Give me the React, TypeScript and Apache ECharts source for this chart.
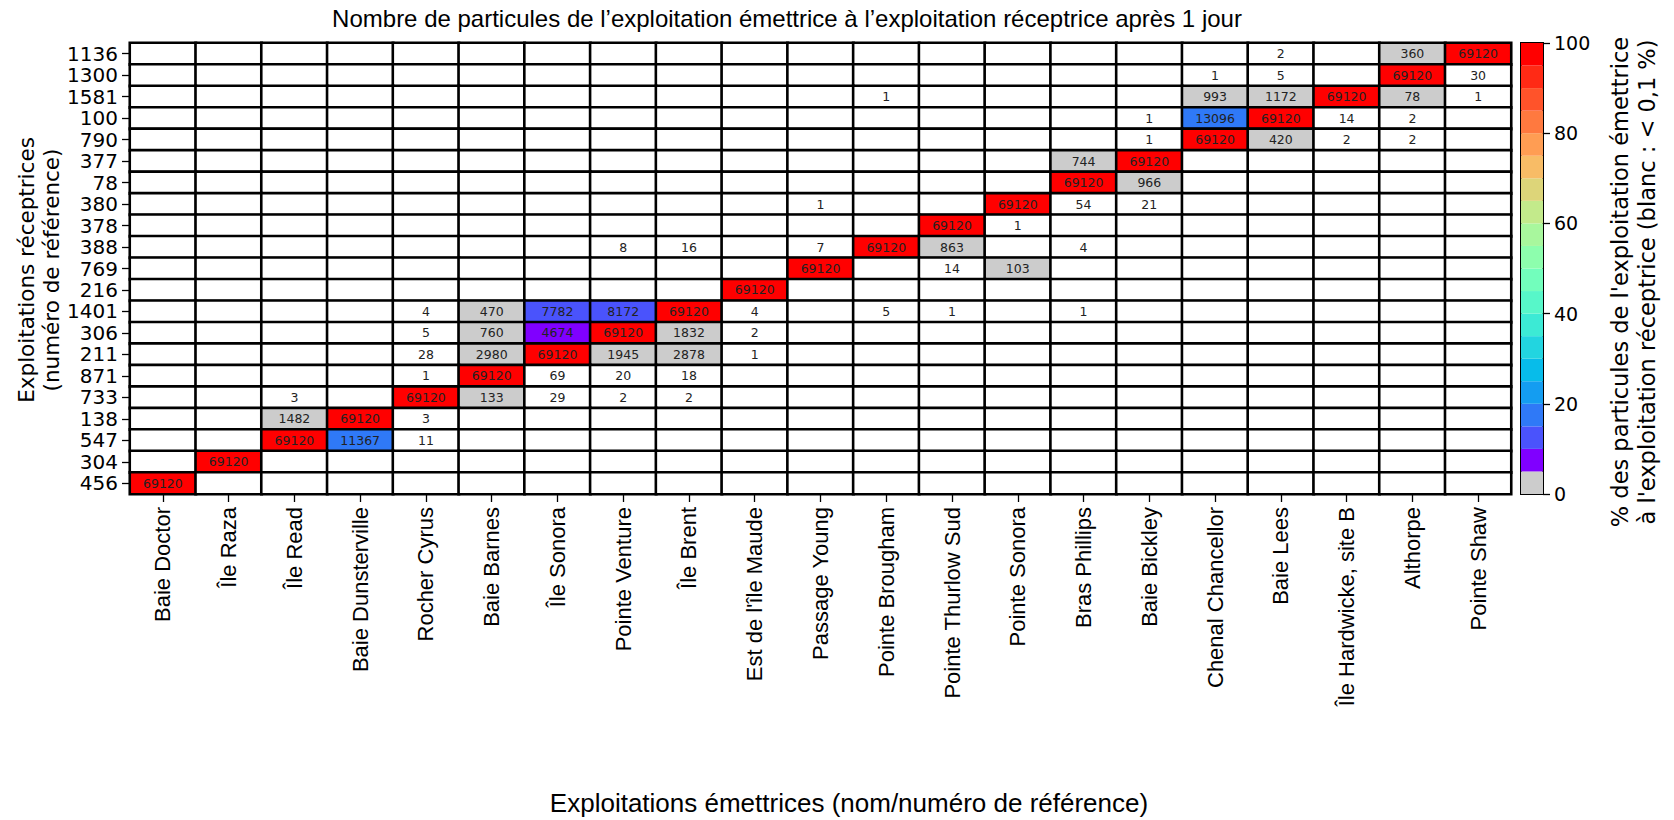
import React, { useEffect, useRef } from "react";
import * as echarts from "echarts";

// Emitting farms (x axis, left to right)
const emitters = [
  "Baie Doctor", "Île Raza", "Île Read", "Baie Dunsterville", "Rocher Cyrus",
  "Baie Barnes", "Île Sonora", "Pointe Venture", "Île Brent", "Est de l'île Maude",
  "Passage Young", "Pointe Brougham", "Pointe Thurlow Sud", "Pointe Sonora",
  "Bras Phillips", "Baie Bickley", "Chenal Chancellor", "Baie Lees",
  "Île Hardwicke, site B", "Althorpe", "Pointe Shaw",
];

// Receiving farms (y axis, top to bottom)
const receivers = [
  "1136", "1300", "1581", "100", "790", "377", "78", "380", "378", "388", "769",
  "216", "1401", "306", "211", "871", "733", "138", "547", "304", "456",
];

// Particle counts per receiving farm (one value per emitting farm)
const r1136 = [0, 0, 0, 0, 0, 0, 0, 0, 0, 0, 0, 0, 0, 0, 0, 0, 0, 2, 0, 360, 69120];
const r1300 = [0, 0, 0, 0, 0, 0, 0, 0, 0, 0, 0, 0, 0, 0, 0, 0, 1, 5, 0, 69120, 30];
const r1581 = [0, 0, 0, 0, 0, 0, 0, 0, 0, 0, 0, 1, 0, 0, 0, 0, 993, 1172, 69120, 78, 1];
const r100 = [0, 0, 0, 0, 0, 0, 0, 0, 0, 0, 0, 0, 0, 0, 0, 1, 13096, 69120, 14, 2, 0];
const r790 = [0, 0, 0, 0, 0, 0, 0, 0, 0, 0, 0, 0, 0, 0, 0, 1, 69120, 420, 2, 2, 0];
const r377 = [0, 0, 0, 0, 0, 0, 0, 0, 0, 0, 0, 0, 0, 0, 744, 69120, 0, 0, 0, 0, 0];
const r78 = [0, 0, 0, 0, 0, 0, 0, 0, 0, 0, 0, 0, 0, 0, 69120, 966, 0, 0, 0, 0, 0];
const r380 = [0, 0, 0, 0, 0, 0, 0, 0, 0, 0, 1, 0, 0, 69120, 54, 21, 0, 0, 0, 0, 0];
const r378 = [0, 0, 0, 0, 0, 0, 0, 0, 0, 0, 0, 0, 69120, 1, 0, 0, 0, 0, 0, 0, 0];
const r388 = [0, 0, 0, 0, 0, 0, 0, 8, 16, 0, 7, 69120, 863, 0, 4, 0, 0, 0, 0, 0, 0];
const r769 = [0, 0, 0, 0, 0, 0, 0, 0, 0, 0, 69120, 0, 14, 103, 0, 0, 0, 0, 0, 0, 0];
const r216 = [0, 0, 0, 0, 0, 0, 0, 0, 0, 69120, 0, 0, 0, 0, 0, 0, 0, 0, 0, 0, 0];
const r1401 = [0, 0, 0, 0, 4, 470, 7782, 8172, 69120, 4, 0, 5, 1, 0, 1, 0, 0, 0, 0, 0, 0];
const r306 = [0, 0, 0, 0, 5, 760, 4674, 69120, 1832, 2, 0, 0, 0, 0, 0, 0, 0, 0, 0, 0, 0];
const r211 = [0, 0, 0, 0, 28, 2980, 69120, 1945, 2878, 1, 0, 0, 0, 0, 0, 0, 0, 0, 0, 0, 0];
const r871 = [0, 0, 0, 0, 1, 69120, 69, 20, 18, 0, 0, 0, 0, 0, 0, 0, 0, 0, 0, 0, 0];
const r733 = [0, 0, 3, 0, 69120, 133, 29, 2, 2, 0, 0, 0, 0, 0, 0, 0, 0, 0, 0, 0, 0];
const r138 = [0, 0, 1482, 69120, 3, 0, 0, 0, 0, 0, 0, 0, 0, 0, 0, 0, 0, 0, 0, 0, 0];
const r547 = [0, 0, 69120, 11367, 11, 0, 0, 0, 0, 0, 0, 0, 0, 0, 0, 0, 0, 0, 0, 0, 0];
const r304 = [0, 69120, 0, 0, 0, 0, 0, 0, 0, 0, 0, 0, 0, 0, 0, 0, 0, 0, 0, 0, 0];
const r456 = [69120, 0, 0, 0, 0, 0, 0, 0, 0, 0, 0, 0, 0, 0, 0, 0, 0, 0, 0, 0, 0];

const rows = [
  r1136, r1300, r1581, r100, r790, r377, r78, r380, r378, r388, r769,
  r216, r1401, r306, r211, r871, r733, r138, r547, r304, r456,
];

// Total particles released per farm (100 %)
const TOTAL = 69120;
// White threshold (percent)
const WHITE_BELOW = 0.1;

// Colour scale: 5 % bins from 0 to 100
const binEdges = [0, 5, 10, 15, 20, 25, 30, 35, 40, 45, 50, 55, 60, 65, 70, 75, 80, 85, 90, 95, 100];
const binColors = [
  "#cccccc", "#8000ff", "#4a53fc", "#2f79f7", "#149df1", "#07bcea", "#22d5e0",
  "#3cead5", "#57f7c9", "#72febc", "#8dfead", "#a8f79d", "#c3ea8b", "#ddd579",
  "#f8bc66", "#ff9d53", "#ff793f", "#ff532a", "#ff2a15", "#ff0000",
];
const colorbarTicks = [0, 20, 40, 60, 80, 100];

const TITLE = "Nombre de particules de l’exploitation émettrice à l’exploitation réceptrice après 1 jour";
const X_NAME = "Exploitations émettrices (nom/numéro de référence)";
const Y_NAME = "Exploitations réceptrices\n(numéro de référence)";
const CB_NAME = "% des particules de l'exploitation émettrice\nà l'exploitation réceptrice (blanc : < 0,1 %)";

export default function App() {
  const ref = useRef<HTMLDivElement>(null);

  useEffect(() => {
    document.body.style.margin = "0";
    if (!ref.current) return;
    const chart = echarts.init(ref.current, undefined, { renderer: "svg" });

    const yCats = receivers.slice().reverse();
    const data: number[][] = [];
    rows.forEach((row, ri) => {
      const yi = receivers.length - 1 - ri;
      row.forEach((v, xi) => data.push([xi, yi, v]));
    });

    const pieces: any[] = [{ lt: (TOTAL * WHITE_BELOW) / 100, color: "#ffffff" }];
    for (let i = 0; i < binColors.length; i++) {
      const lo = i === 0 ? (TOTAL * WHITE_BELOW) / 100 : (TOTAL * binEdges[i]) / 100;
      const hi = (TOTAL * binEdges[i + 1]) / 100;
      if (i === binColors.length - 1) pieces.push({ gte: lo, lte: hi, color: binColors[i] });
      else pieces.push({ gte: lo, lt: hi, color: binColors[i] });
    }

    const cbSeries = binColors.map((c, i) => ({
      type: "bar",
      stack: "cb",
      xAxisIndex: 1,
      yAxisIndex: 1,
      barWidth: "100%",
      data: [binEdges[i + 1] - binEdges[i]],
      itemStyle: { color: c },
      silent: true,
    }));

    const sans = "'Liberation Sans', Arial, sans-serif";
    const dv = "'DejaVu Sans', sans-serif";

    chart.setOption({
      animation: false,
      backgroundColor: "#ffffff",
      grid: [
        { left: 130, top: 43, width: 1381, height: 451, containLabel: false },
        {
          left: 1521, top: 43, width: 22, height: 451, show: true,
          borderColor: "#000", borderWidth: 2, backgroundColor: "transparent",
        },
      ],
      xAxis: [
        {
          type: "category",
          gridIndex: 0,
          data: emitters,
          position: "bottom",
          axisLine: { show: false },
          axisTick: { show: true, length: 8, alignWithLabel: true, lineStyle: { color: "#000", width: 1.3 } },
          axisLabel: {
            rotate: 90, interval: 0, margin: 13, color: "#000",
            fontSize: 22, fontFamily: sans,
          },
          splitLine: { show: false },
        },
        {
          type: "category",
          gridIndex: 1,
          data: ["cb"],
          show: false,
        },
      ],
      yAxis: [
        {
          type: "category",
          gridIndex: 0,
          data: yCats,
          axisLine: { show: false },
          axisTick: { show: true, length: 8, alignWithLabel: true, lineStyle: { color: "#000", width: 1.3 } },
          axisLabel: { interval: 0, margin: 12, color: "#000", fontSize: 20, fontFamily: dv },
          splitLine: { show: false },
        },
        {
          type: "value",
          gridIndex: 1,
          min: 0,
          max: 100,
          interval: 20,
          position: "right",
          axisLine: { show: true, lineStyle: { color: "#000", width: 1 } },
          axisTick: { show: true, length: 7, lineStyle: { color: "#000", width: 1.3 } },
          axisLabel: {
            margin: 11, color: "#000", fontSize: 19, fontFamily: dv,
            formatter: (v: number) => (colorbarTicks.includes(v) ? String(v) : ""),
          },
          splitLine: { show: false },
        },
      ],
      visualMap: {
        type: "piecewise",
        show: false,
        seriesIndex: 0,
        dimension: 2,
        pieces,
      },
      series: [
        {
          type: "heatmap",
          xAxisIndex: 0,
          yAxisIndex: 0,
          data,
          silent: true,
          itemStyle: { borderColor: "#000", borderWidth: 2.6 },
          label: {
            show: true,
            fontSize: 12.5,
            fontFamily: dv,
            color: "#222",
            formatter: (p: any) => (p.value[2] > 0 ? String(p.value[2]) : ""),
          },
          emphasis: { disabled: true },
        },
        ...cbSeries,
      ],
      graphic: [
        {
          type: "text",
          x: 787,
          y: 18,
          style: {
            text: TITLE, fill: "#000", font: `24px ${sans}`,
            textAlign: "center", textVerticalAlign: "middle",
          },
        },
        {
          type: "text",
          x: 849,
          y: 803,
          style: {
            text: X_NAME, fill: "#000", font: `26px ${sans}`,
            textAlign: "center", textVerticalAlign: "middle",
          },
        },
        {
          type: "text",
          x: 39,
          y: 270,
          rotation: Math.PI / 2,
          style: {
            text: Y_NAME, fill: "#000", font: `21.5px ${dv}`, lineHeight: 25,
            textAlign: "center", textVerticalAlign: "middle",
          },
        },
        {
          type: "text",
          x: 1633,
          y: 282,
          rotation: Math.PI / 2,
          style: {
            text: CB_NAME, fill: "#000", font: `22.5px ${dv}`, lineHeight: 27,
            textAlign: "center", textVerticalAlign: "middle",
          },
        },
      ],
    });

    return () => chart.dispose();
  }, []);

  return <div ref={ref} style={{ width: 1674, height: 820 }} />;
}
